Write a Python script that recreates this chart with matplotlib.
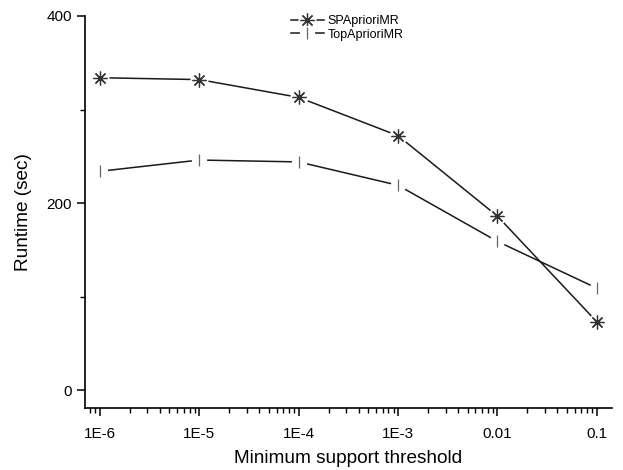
import numpy as np
import matplotlib
matplotlib.use('Agg')
import matplotlib.pyplot as plt
from matplotlib.ticker import LogLocator, FixedLocator, NullFormatter
from matplotlib.legend_handler import HandlerTuple

plt.rcParams['font.family'] = ['Liberation Sans', 'DejaVu Sans']

# data
thresholds = [1e-6, 1e-5, 1e-4, 1e-3, 1e-2, 1e-1]
tick_labels = ['1E-6', '1E-5', '1E-4', '1E-3', '0.01', '0.1']
sp_apriori = [334, 332, 313, 272, 186, 73]
top_apriori = [234, 246, 244, 219, 159, 109]

dpi = 100
fig = plt.figure(figsize=(623 / dpi, 470 / dpi), dpi=dpi)
ax = fig.add_axes([0.1364, 0.132, 0.982 - 0.1364, 0.966 - 0.132])

line_col = '#1a1a1a'

def draw_series(y, marker, msize, mcol):
    # line with small gaps around markers (white blobs under markers)
    l1, = ax.plot(thresholds, y, color=line_col, lw=1.1, zorder=1)
    l2, = ax.plot(thresholds, y, ls='none', marker='o', ms=msize + 2,
                  mfc='white', mec='white', zorder=2)
    l3, = ax.plot(thresholds, y, ls='none', marker=marker, ms=msize,
                  mec=mcol, mew=0.9, zorder=3)
    return (l1, l2, l3)

h_sp = draw_series(sp_apriori, (8, 2, 0), 10, '#333333')
h_top = draw_series(top_apriori, '|', 8, '#666666')

ax.set_xscale('log')
ax.set_xlim(10 ** -6.15, 10 ** -0.85)
ax.set_ylim(-19, 400)

ax.xaxis.set_major_locator(FixedLocator(thresholds))
ax.set_xticklabels(tick_labels)
ax.xaxis.set_minor_locator(LogLocator(base=10, subs=np.arange(2, 10), numticks=20))
ax.xaxis.set_minor_formatter(NullFormatter())

ax.set_yticks([0, 200, 400])
ax.set_yticks([100, 300], minor=True)

for side in ['top', 'right']:
    ax.spines[side].set_visible(False)
for side in ['left', 'bottom']:
    ax.spines[side].set_linewidth(1.2)

ax.tick_params(axis='both', which='major', direction='out', length=6, width=1.1,
               labelsize=11)
ax.tick_params(axis='both', which='minor', direction='out', length=3.5, width=1.0)
ax.tick_params(axis='x', pad=8)

ax.set_xlabel('Minimum support threshold', fontsize=13.7, labelpad=6)
ax.set_ylabel('Runtime (sec)', fontsize=13.7, labelpad=10)

ax.legend([h_sp, h_top], ['SPAprioriMR', 'TopAprioriMR'],
          handler_map={tuple: HandlerTuple(ndivide=1, pad=0)},
          loc='upper left', bbox_to_anchor=(0.37, 1.03), frameon=False,
          fontsize=9, handlelength=2.6, handletextpad=0.3, labelspacing=0.1)

plt.savefig('out.png', dpi=dpi)
